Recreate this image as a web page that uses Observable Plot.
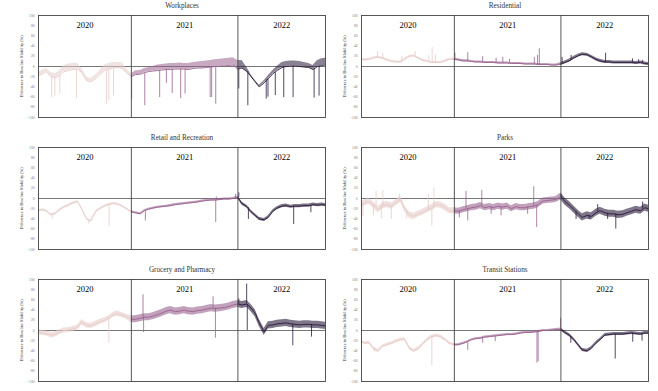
<!DOCTYPE html>
<html><head><meta charset="utf-8">
<script src="https://cdn.jsdelivr.net/npm/d3@7"></script>
<script src="https://cdn.jsdelivr.net/npm/@observablehq/plot@0.6"></script>
<style>
html,body{margin:0;padding:0;background:#fff;}
#chart{position:relative;width:658px;height:391px;overflow:hidden;}
.panel{position:absolute;}
.panel svg{overflow:visible;}
</style></head><body><div id="chart"></div>
<script>
const years = [2020, 2021, 2022];
const yearLabels = ["2020", "2021", "2022"];
const yearColors = ["#e6ccc8", "#9a6290", "#2a1b3b"];
const yTicks = [-100, -80, -60, -40, -20, 0, 20, 40, 60, 80, 100];
const yLabel = "Difference to Baseline Mobility (%)";
const domainStart = "2020-02-18", domainEnd = "2022-10-28";

const dates = [
 "2020-02-18","2020-03-01","2020-03-15","2020-04-01","2020-04-15","2020-05-01","2020-05-15","2020-06-01","2020-06-15","2020-07-01","2020-07-15","2020-08-01","2020-08-15","2020-09-01","2020-09-15","2020-10-01","2020-10-15","2020-11-01","2020-11-15","2020-12-01","2020-12-15",
 "2021-01-01","2021-01-15","2021-02-01","2021-02-15","2021-03-01","2021-03-15","2021-04-01","2021-04-15","2021-05-01","2021-05-15","2021-06-01","2021-06-15","2021-07-01","2021-07-15","2021-08-01","2021-08-15","2021-09-01","2021-09-15","2021-10-01","2021-10-15","2021-11-01","2021-11-15","2021-12-01","2021-12-15",
 "2022-01-01","2022-01-15","2022-02-01","2022-02-15","2022-03-01","2022-03-15","2022-04-01","2022-04-15","2022-05-01","2022-05-15","2022-06-01","2022-06-15","2022-07-01","2022-07-15","2022-08-01","2022-08-15","2022-09-01","2022-09-15","2022-10-01","2022-10-15","2022-10-28"
];

const workplaces = [
 -18,-15,-10,-20,-22,-18,-10,-8,-6,-5,-12,-28,-30,-24,-16,-8,-5,-3,-2,-4,-12,
 -20,-16,-15,-12,-10,-9,-8,-7,-6,-6,-5,-5,-5,-6,-4,-3,-3,-2,-1,0,1,1,2,3,
 -5,-3,-10,-20,-30,-40,-32,-24,-14,-8,-2,0,1,1,0,-1,-2,-6,0,2,3
];
const workplacesTop = [
 -12,-8,-4,-12,-14,-8,2,5,6,6,-4,-20,-24,-16,-8,3,6,8,8,7,-4,
 -14,-9,-8,-4,-2,0,3,4,5,6,6,7,6,6,8,9,10,11,12,13,14,15,16,17,
 12,12,-2,-16,-27,-37,-28,-18,-8,0,8,10,11,11,10,8,6,2,12,15,16
];
const workplacesSpikes = [
 ["2020-04-03",-20,-61],["2020-04-14",-22,-58],["2020-05-01",-18,-54],["2020-06-27",-6,-63],["2020-10-08",-8,-74],["2020-10-16",-5,-67],["2020-11-01",-3,-58],
 ["2021-01-02",-20,-64],["2021-02-16",-13,-77],["2021-04-08",-8,-61],["2021-05-01",-6,-33],["2021-05-21",-6,-53],["2021-06-19",-5,-63],["2021-07-04",-5,-54],["2021-09-28",-1,-61],["2021-10-03",-1,-61],["2021-10-17",0,-74],
 ["2022-01-04",-5,-44],["2022-02-04",-10,-77],["2022-04-08",-26,-64],["2022-04-14",-24,-60],["2022-05-09",-12,-57],["2022-06-07",0,-61],["2022-07-09",1,-61],["2022-09-19",-4,-62],["2022-10-06",1,-58]
];

const residential = [
 14,13,14,17,18,16,13,10,9,9,14,20,21,16,12,10,8,8,8,11,14,
 14,13,11,11,10,9,9,8,8,8,7,7,7,6,6,6,5,5,5,4,4,4,3,3,
 5,8,12,17,21,24,23,19,14,11,9,9,8,8,8,8,8,7,8,6,5
];
const residentialSpread = [2, 2, 3];
const residentialSpikes = [
 ["2020-04-13",18,29],["2020-05-01",16,25],["2020-07-05",10,20],["2020-08-20",20,29],["2020-10-06",10,21],["2020-10-17",8,37],["2020-10-28",8,23],
 ["2021-01-03",14,26],["2021-02-16",11,27],["2021-04-08",9,19],["2021-05-24",8,16],["2021-06-16",7,18],["2021-07-09",7,14],["2021-10-02",5,18],["2021-10-13",4,22],["2021-10-19",4,35],
 ["2022-01-05",6,18],["2022-02-05",12,22],["2022-06-03",9,26],["2022-09-03",8,15],["2022-09-24",8,13],["2022-10-08",7,12]
];

const retail = [
 -24,-22,-24,-32,-30,-22,-17,-13,-9,-6,-20,-40,-44,-26,-20,-15,-12,-10,-11,-15,-20,
 -26,-28,-30,-24,-21,-19,-17,-16,-15,-14,-12,-11,-10,-9,-8,-7,-5,-4,-3,-3,-2,-1,-1,0,
 2,-10,-16,-26,-33,-40,-42,-37,-25,-19,-15,-14,-16,-15,-15,-14,-14,-12,-13,-12,-13
];
const retailSpread = [2, 2, 3];
const retailSpikes = [
 ["2020-04-05",-32,-40],["2020-08-08",-44,-50],["2020-10-17",-12,-55],
 ["2021-02-18",-26,-44],["2021-10-17",-3,-47],["2021-10-19",-3,3],["2021-12-24",0,8],
 ["2022-01-04",2,11],["2022-02-06",-18,-41],["2022-07-11",-15,-51],["2022-09-08",-14,-28]
];

const parks = [
 -12,-8,-6,-14,-22,-14,-12,-15,-8,-2,-20,-33,-35,-30,-27,-22,-18,-12,-13,-18,-24,
 -24,-25,-22,-20,-18,-17,-14,-18,-16,-18,-15,-17,-15,-20,-16,-18,-18,-16,-15,-12,-5,-4,-3,-2,
 4,-6,-14,-22,-30,-37,-33,-35,-28,-24,-28,-30,-30,-32,-31,-28,-25,-22,-24,-18,-20
];
const parksSpread = [6, 6, 7];
const parksSpikes = [
 ["2020-02-23",-10,-35],["2020-03-30",-12,-34],["2020-04-08",-18,14],["2020-04-26",-14,-40],["2020-05-01",-14,16],["2020-05-30",-15,-41],["2020-06-27",-4,8],["2020-07-22",-25,-40],["2020-10-04",-22,8],["2020-10-16",-18,-54],["2020-10-23",-15,21],
 ["2021-01-18",-25,-38],["2021-02-10",-20,14],["2021-02-16",-20,-44],["2021-04-05",-14,16],["2021-05-07",-16,-31],["2021-06-10",-16,-34],["2021-09-09",-17,-31],["2021-09-30",-15,23],["2021-10-10",-14,-57],
 ["2022-01-02",4,8],["2022-02-22",-26,-41],["2022-04-08",-34,-41],["2022-05-07",-26,-12],["2022-06-10",-29,-41],["2022-07-08",-30,-60],["2022-10-08",-20,-7]
];

const grocery = [
 -4,-5,-6,-9,-8,-3,0,1,3,6,16,10,9,13,17,20,24,31,33,30,27,
 22,22,24,26,26,28,31,34,38,40,37,38,40,38,37,39,40,42,44,43,44,45,47,50,
 52,50,52,44,34,15,-3,10,11,13,14,15,13,12,11,12,12,11,11,10,9
];
const grocerySpread = [5, 7, 7];
const grocerySpikes = [
 ["2020-10-16",24,-25],
 ["2021-02-10",26,70],["2021-02-12",26,-4],["2021-10-08",44,66],["2021-10-16",44,-15],
 ["2022-01-04",52,62],["2022-01-31",52,91],["2022-02-02",50,0],["2022-07-08",12,-30],["2022-09-10",12,-13]
];

const transit = [
 -22,-25,-24,-36,-40,-31,-28,-25,-21,-18,-17,-35,-40,-35,-27,-18,-12,-10,-12,-18,-25,
 -28,-28,-25,-22,-18,-16,-15,-13,-12,-11,-10,-9,-8,-8,-7,-5,-4,-4,-3,-2,0,0,1,2,
 2,-4,-10,-18,-28,-38,-40,-35,-25,-18,-9,-8,-7,-7,-7,-6,-5,-6,-7,-5,-5
];
const transitSpread = [3, 2, 3];
const transitSpikes = [
 ["2020-04-03",-36,-42],["2020-10-16",-12,-69],
 ["2021-02-16",-24,-39],["2021-04-08",-15,-25],["2021-05-21",-12,-22],["2021-10-11",-3,-64],["2021-10-15",-3,-61],["2021-12-31",2,24],
 ["2022-02-04",-12,-25],["2022-07-06",-7,-56],["2022-09-04",-5,-23],["2022-10-06",-7,-21]
];

const panels = [
 {title: "Workplaces", values: workplaces, top: workplacesTop, spikes: workplacesSpikes},
 {title: "Residential", values: residential, spread: residentialSpread, spikes: residentialSpikes},
 {title: "Retail and Recreation", values: retail, spread: retailSpread, spikes: retailSpikes},
 {title: "Parks", values: parks, spread: parksSpread, spikes: parksSpikes},
 {title: "Grocery and Pharmacy", values: grocery, spread: grocerySpread, spikes: grocerySpikes},
 {title: "Transit Stations", values: transit, spread: transitSpread, spikes: transitSpikes}
];

const parse = s => new Date(s + "T00:00:00Z");
const x0 = parse(domainStart), x1 = parse(domainEnd);
const yearStarts = years.slice(1).map(y => parse(`${y}-01-01`));
const midYear = (y) => {
  const a = Math.max(+parse(`${y}-01-01`), +x0), b = Math.min(+parse(`${y + 1}-01-01`), +x1);
  return new Date((a + b) / 2);
};
const yearText = years.map((y, i) => ({date: midYear(y), label: yearLabels[i]}));

function rows(p) {
  const r = dates.map((d, i) => {
    const year = +d.slice(0, 4);
    const v = p.values[i];
    const s = p.spread ? p.spread[years.indexOf(year)] : 0;
    return {date: parse(d), year, value: v,
      lo: p.top ? v : v - s, hi: p.top ? p.top[i] : v + s};
  });
  const out = [];
  r.forEach((q, i) => {
    out.push(q);
    if (i + 1 < r.length && r[i + 1].year !== q.year) out.push({...r[i + 1], year: q.year});
  });
  return out;
}

const font = "'Liberation Serif', 'Times New Roman', serif";
const chart = document.getElementById("chart");

panels.forEach((p, k) => {
  const col = k % 2, row = Math.floor(k / 2);
  const W = 330;
  const ml = col === 0 ? 38 : 33, mr = col === 0 ? 5 : 10;
  const data = rows(p);
  const svg = Plot.plot({
    width: W, height: 132,
    marginLeft: ml, marginRight: mr, marginTop: 15, marginBottom: 15,
    style: {fontFamily: font, background: "transparent", overflow: "visible", color: "black"},
    x: {type: "utc", domain: [x0, x1], axis: null},
    y: {domain: [-100, 100]},
    color: {type: "ordinal", domain: years, range: yearColors},
    marks: [
      Plot.ruleY([0], {stroke: "#666", strokeWidth: 0.9}),
      Plot.areaY(data, {x: "date", y1: "lo", y2: "hi", z: "year", fill: "year", fillOpacity: p.top ? 0.55 : 0.6}),
      Plot.line(data, {x: "date", y: "value", z: "year", stroke: "year", strokeWidth: 0.9}),
      Plot.ruleX(p.spikes, {x: d => parse(d[0]), y1: d => d[1], y2: d => d[2], stroke: d => +d[0].slice(0, 4), strokeWidth: 0.8}),
      Plot.ruleX(yearStarts, {stroke: "#444", strokeWidth: 0.9}),
      Plot.frame({stroke: "#444", strokeWidth: 0.9}),
      Plot.axisY({ticks: yTicks, tickSize: 0, tickPadding: 4, fontSize: 3.6, color: "#777", label: null}),
      Plot.text([yLabel], {frameAnchor: "left", textAnchor: "middle", rotate: -90, dx: -17, fontSize: 4.3, fill: "#333"}),
      Plot.text(yearText, {x: "date", text: "label", frameAnchor: "top", lineAnchor: "middle", dy: 10, fontSize: 8.5, fill: "black"}),
      Plot.text([p.title], {frameAnchor: "top", lineAnchor: "middle", dy: -9.5, fontSize: 7.2, fill: "#333"})
    ]
  });
  const div = document.createElement("div");
  div.className = "panel";
  div.style.left = (col === 0 ? 0 : 328) + "px";
  div.style.top = (row * 132) + "px";
  div.appendChild(svg);
  chart.appendChild(div);
});
</script>
</body></html>
